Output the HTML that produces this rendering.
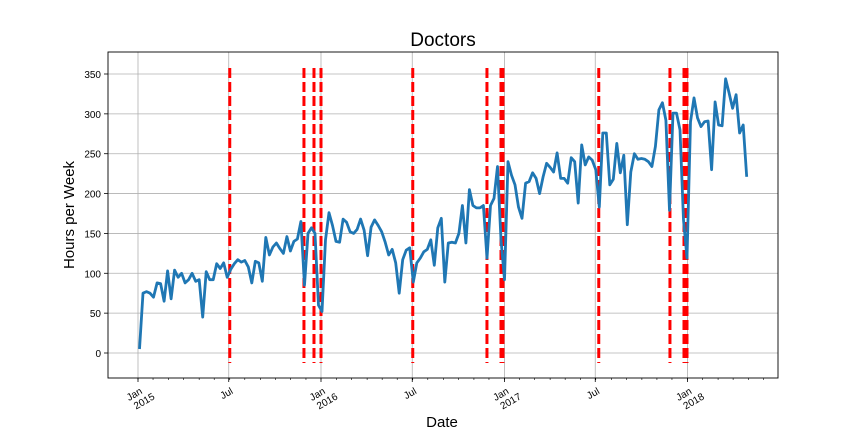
<!DOCTYPE html>
<html><head><meta charset="utf-8"><style>
body{margin:0;background:#fff;}
svg{display:block;font-family:"Liberation Sans","DejaVu Sans",sans-serif;}
</style></head><body>
<svg id="chart" width="864" height="432"></svg>
<script>
const values2015 = [5,75,77,75,70,88,87,65,103,68,104,95,100,88,92,100,90,92,45,102,92,92,112,106,113,95,105,112,117,114,116,108,88,115,113,90,145,123,133,138,131,125,146,128,140,143,165,85,150,157,150,60,52];
const values2016 = [142,176,160,140,139,168,164,152,150,155,168,154,122,158,167,160,152,139,123,130,113,75,117,129,132,89,113,119,127,130,142,110,157,169,89,138,139,138,150,185,138,205,185,182,182,185,119,185,194,234,142,92];
const values2017 = [240,223,211,183,169,213,215,226,219,200,221,238,233,227,251,219,219,213,245,240,188,261,236,246,242,230,183,276,276,211,218,263,226,248,161,227,250,243,244,243,240,234,259,305,314,292,179,301,301,280,167,119];
const values2018 = [290,320,295,284,290,291,230,315,286,285,344,326,307,324,276,286,221];
const seriesValues = values2015.concat(values2016, values2017, values2018);
const firstWeekDay = 3;
const eventDays = [183,331,351,365,548,696,724,728,919,1061,1089,1095];
const yTicks = [0,50,100,150,200,250,300,350];
const xTickLabels = [["Jan","2015"],["Jul",""],["Jan","2016"],["Jul",""],["Jan","2017"],["Jul",""],["Jan","2018"]];
const xTickDays = [0,181,365,547,731,912,1096];

const NS="http://www.w3.org/2000/svg";
const svg=document.getElementById('chart');
const L=108,R=778,T=52,B=378;
const xS=d=>138+d*(183/365);
const yS=v=>353-v*(279/350);
function mk(tag,attrs,parent){const e=document.createElementNS(NS,tag);for(const k in attrs)e.setAttribute(k,attrs[k]);(parent||svg).appendChild(e);return e;}

yTicks.forEach(v=>{
  const y=yS(v);
  const g=mk('line',{x1:L,x2:R,y1:y,y2:y,stroke:'#b0b0b0','stroke-width':0.8});
  
  
  mk('line',{x1:L-4,x2:L,y1:y,y2:y,stroke:'#000','stroke-width':0.8});
  const t=mk('text',{x:L-7,y:y+4,'text-anchor':'end','font-size':10});
  t.textContent=v;
  
  
});
for(let m=0;m<=41;m++){
  const d=Math.round(m*30.44);
  const x=xS(d);
  if(x>R)break;
  mk('line',{x1:x,x2:x,y1:B,y2:B+2,stroke:'#000','stroke-width':0.6});
}
xTickDays.forEach((d,i)=>{
  const x=xS(d);
  const g=mk('line',{x1:x,x2:x,y1:T,y2:B,stroke:'#b0b0b0','stroke-width':0.8});
  
  
  mk('line',{x1:x,x2:x,y1:B,y2:B+4,stroke:'#000','stroke-width':0.8});
  const t=mk('text',{transform:`translate(${x+5},${B+15}) rotate(-30)`,'text-anchor':'end','font-size':10});
  
  
  const a=mk('tspan',{x:0,dy:0},t);a.textContent=xTickLabels[i][0];
  if(xTickLabels[i][1]){const b=mk('tspan',{x:8,dy:11},t);b.textContent=xTickLabels[i][1];}
});
eventDays.forEach(d=>{
  const x=xS(d);
  const l=mk('line',{x1:x,x2:x,y1:68,y2:363,stroke:'#ff0000','stroke-width':3,'stroke-dasharray':'10,4'});
  
  
});
const pts=seriesValues.map((v,i)=>xS(firstWeekDay+7*i).toFixed(1)+','+yS(v).toFixed(1)).join(' ');
const pl=mk('polyline',{points:pts,fill:'none',stroke:'#1f77b4','stroke-width':2.8,'stroke-linejoin':'round'});


const fr=mk('rect',{x:L,y:T,width:R-L,height:B-T,fill:'none',stroke:'#000','stroke-width':0.9});


const ti=mk('text',{x:(L+R)/2,y:46,'text-anchor':'middle','font-size':19});
ti.textContent='Doctors';


const yl=mk('text',{transform:'translate(74,215) rotate(-90)','text-anchor':'middle','font-size':15});
yl.textContent='Hours per Week';


const xl=mk('text',{x:442,y:432-5,'text-anchor':'middle','font-size':15});
xl.textContent='Date';


</script>
</body></html>
